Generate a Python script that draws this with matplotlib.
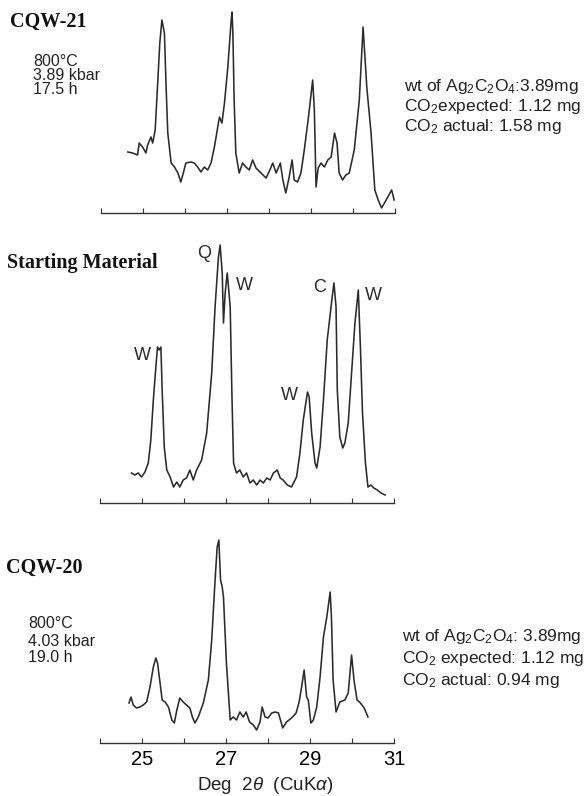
import matplotlib
matplotlib.use('Agg')
import matplotlib.pyplot as plt

plt.rcParams['font.family'] = ['Liberation Sans', 'DejaVu Sans']
plt.rcParams['mathtext.fontset'] = 'custom'
plt.rcParams['mathtext.rm'] = 'Liberation Sans'
plt.rcParams['mathtext.it'] = 'Liberation Sans:italic'

# CQW-21 trace (deg 2theta, relative intensity)
top_x = [24.64, 24.75, 24.87, 24.91, 24.99, 25.07, 25.11, 25.19, 25.23, 25.29,
         25.35, 25.40, 25.45, 25.51, 25.55, 25.59, 25.67, 25.75, 25.83, 25.90,
         25.96, 26.02, 26.14, 26.22, 26.30, 26.38, 26.46, 26.54, 26.62, 26.70,
         26.78, 26.82, 26.88, 26.94, 27.02, 27.10, 27.12, 27.14, 27.17, 27.21,
         27.29, 27.37, 27.45, 27.53, 27.61, 27.69, 27.81, 27.93, 28.00, 28.09,
         28.17, 28.27, 28.33, 28.40, 28.48, 28.55, 28.60, 28.68, 28.76, 28.84,
         28.94, 29.04, 29.08, 29.12, 29.17, 29.24, 29.32, 29.40, 29.48, 29.56,
         29.62, 29.67, 29.75, 29.83, 29.91, 30.03, 30.15, 30.24, 30.33, 30.43,
         30.52, 30.60, 30.68, 30.79, 30.92, 30.98]
top_y = [61, 60, 58, 70, 66, 60, 68, 76, 70, 83,
         130, 170, 193, 180, 126, 80, 50, 46, 40, 31,
         40, 50, 51, 50, 46, 41, 46, 43, 50, 66,
         86, 96, 90, 110, 146, 193, 201, 180, 113, 60,
         40, 50, 46, 43, 53, 45, 40, 35, 41, 50,
         40, 50, 33, 20, 36, 53, 33, 31, 40, 63,
         96, 133, 103, 26, 45, 50, 46, 53, 56, 80,
         70, 40, 33, 38, 40, 63, 113, 186, 125, 80,
         23, 13, 5, 13, 23, 13]

# Starting material trace
mid_x = [24.75, 24.83, 24.91, 24.99, 25.07, 25.15, 25.21, 25.27, 25.33, 25.37,
         25.41, 25.45, 25.48, 25.53, 25.59, 25.67, 25.75, 25.83, 25.90, 25.98,
         26.06, 26.14, 26.22, 26.30, 26.42, 26.54, 26.66, 26.74, 26.82, 26.86,
         26.91, 26.94, 26.98, 27.03, 27.10, 27.14, 27.18, 27.25, 27.33, 27.41,
         27.49, 27.57, 27.65, 27.73, 27.81, 27.89, 27.97, 28.05, 28.13, 28.22,
         28.29, 28.36, 28.46, 28.56, 28.68, 28.76, 28.84, 28.94, 28.98, 29.04,
         29.12, 29.16, 29.24, 29.32, 29.41, 29.52, 29.57, 29.62, 29.65, 29.71,
         29.78, 29.83, 29.91, 29.99, 30.07, 30.15, 30.20, 30.25, 30.32, 30.38,
         30.45, 30.52, 30.60, 30.69, 30.79]
mid_y = [30, 28, 30, 26, 31, 40, 63, 103, 136, 156,
         153, 156, 113, 56, 33, 26, 16, 21, 16, 23,
         25, 33, 23, 33, 43, 70, 130, 196, 246, 258,
         230, 180, 210, 230, 196, 110, 40, 30, 33, 26,
         30, 20, 23, 18, 23, 20, 25, 23, 30, 33,
         25, 23, 18, 16, 26, 50, 83, 111, 106, 70,
         40, 35, 56, 103, 163, 203, 220, 196, 113, 66,
         55, 60, 80, 130, 180, 213, 156, 90, 40, 16,
         18, 15, 13, 10, 8]

# CQW-20 trace
bot_x = [24.69, 24.74, 24.79, 24.87, 24.95, 25.03, 25.11, 25.19, 25.27, 25.33,
         25.37, 25.43, 25.48, 25.55, 25.63, 25.71, 25.77, 25.83, 25.90, 25.98,
         26.06, 26.14, 26.20, 26.26, 26.34, 26.46, 26.58, 26.66, 26.74, 26.79,
         26.83, 26.87, 26.91, 26.94, 27.01, 27.10, 27.17, 27.25, 27.33, 27.41,
         27.48, 27.56, 27.65, 27.73, 27.81, 27.86, 27.93, 28.00, 28.09, 28.17,
         28.25, 28.35, 28.44, 28.56, 28.67, 28.74, 28.80, 28.86, 28.92, 28.96,
         29.02, 29.08, 29.16, 29.24, 29.32, 29.40, 29.48, 29.51, 29.55, 29.62,
         29.71, 29.83, 29.91, 29.99, 30.05, 30.12, 30.20, 30.29, 30.38]
bot_y = [40, 46, 38, 35, 36, 38, 41, 56, 76, 85,
         80, 60, 43, 41, 36, 23, 20, 33, 45, 41,
         38, 35, 26, 20, 26, 40, 63, 103, 163, 196,
         203, 163, 156, 146, 80, 23, 26, 23, 31, 26,
         31, 21, 18, 13, 21, 36, 26, 25, 30, 31,
         30, 15, 21, 25, 30, 41, 56, 73, 46, 43,
         20, 23, 36, 66, 106, 126, 151, 126, 63, 31,
         41, 43, 50, 88, 62, 43, 40, 35, 26]

ticks = [24, 25, 26, 27, 28, 29, 30, 31]
tick_labels = ['', '25', '', '27', '', '29', '', '31']

# phase labels on the starting material trace
peak_labels = ['W', 'Q', 'W', 'W', 'C', 'W']
peak_label_x = [25.02, 26.48, 27.45, 28.52, 29.23, 30.52]
peak_label_y = [148, 250, 218, 108, 215, 208]

W, H = 586, 796
fig = plt.figure(figsize=(W / 100, H / 100), dpi=100)


def panel(base_px, top_units, xs, ys, left_px=100):
    ax = fig.add_axes([left_px / W, 1 - base_px / H, 294 / W, top_units / H])
    ax.plot(xs, ys, color='#2b2b2b', lw=1.15)
    ax.set_xlim(24, 31)
    ax.set_ylim(0, top_units)
    for s in ['top', 'left', 'right']:
        ax.spines[s].set_visible(False)
    ax.spines['bottom'].set_color('#333333')
    ax.spines['bottom'].set_linewidth(1.0)
    ax.set_yticks([])
    ax.set_xticks(ticks)
    ax.tick_params(axis='x', direction='in', length=3.5, width=0.8,
                   color='#333333', labelsize=14.5, pad=5)
    ax.set_facecolor('none')
    return ax


ax1 = panel(213, 210, top_x, top_y, left_px=101)
ax1.set_xticklabels([])
ax2 = panel(503, 265, mid_x, mid_y)
ax2.set_xticklabels([])
ax3 = panel(743, 210, bot_x, bot_y)
ax3.set_xticklabels(tick_labels)

for lab, lx, ly in zip(peak_labels, peak_label_x, peak_label_y):
    ax2.text(lx, ly, lab, ha='center', va='center', fontsize=13, color='#2a2a2a')


def ftext(x, y, s, **kw):
    fig.text(x / W, 1 - y / H, s, **kw)


serif = dict(family='Liberation Serif', weight='bold', fontsize=14.5, va='center', color='#111111')
ftext(10, 22, 'CQW-21', **serif)
ftext(7, 263, 'Starting Material', **serif)
ftext(6, 568, 'CQW-20', **serif)

small = dict(fontsize=11.5, va='center', color='#222222')
for i, s in enumerate(['800°C', '3.89 kbar', '17.5 h']):
    ftext(33, 62 + 14 * i, s, **small)
for i, s in enumerate(['800°C', '4.03 kbar', '19.0 h']):
    ftext(28, 624 + 17 * i, s, **small)

right = dict(fontsize=12.5, va='center', color='#222222')
right1 = ['wt of Ag$_2$C$_2$O$_4$:3.89mg', 'CO$_2$expected: 1.12 mg', 'CO$_2$ actual: 1.58 mg']
right2 = ['wt of Ag$_2$C$_2$O$_4$: 3.89mg', 'CO$_2$ expected: 1.12 mg', 'CO$_2$ actual: 0.94 mg']
for i, s in enumerate(right1):
    ftext(404, 87 + 20 * i, s, **right)
for i, s in enumerate(right2):
    ftext(402, 637 + 22 * i, s, **right)

ftext(265, 785, r'Deg  2$\theta$  (CuK$\alpha$)', fontsize=13.5, ha='center', va='center', color='#222222')

fig.savefig('out.png', dpi=100, facecolor='white')
